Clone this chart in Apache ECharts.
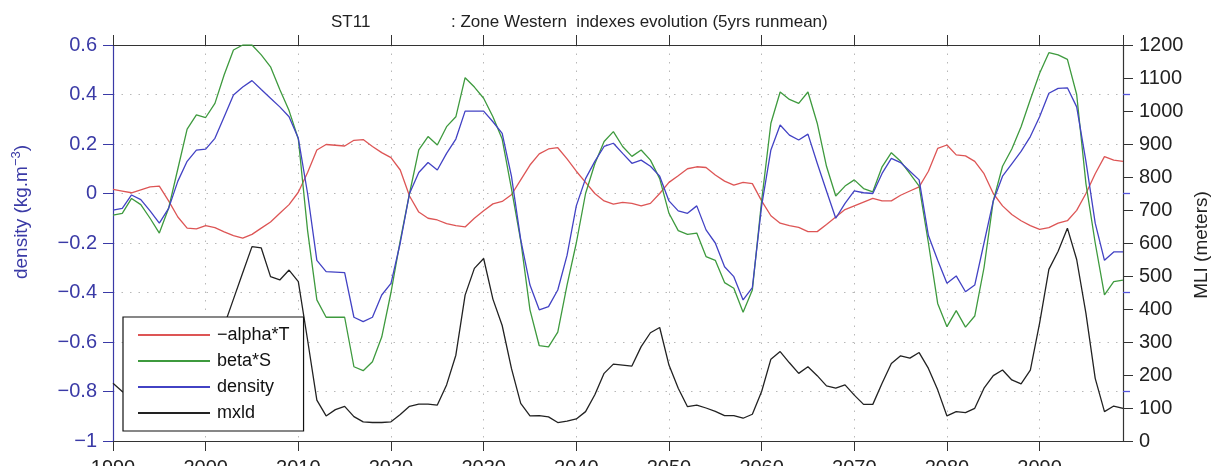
<!DOCTYPE html>
<html><head><meta charset="utf-8">
<script src="https://cdn.jsdelivr.net/npm/echarts@6/dist/echarts.min.js"></script>
<style>html,body{margin:0;padding:0;background:#fff}#c{width:1222px;height:466px}</style>
</head><body><div id="c"></div>
<script>
const startYear = 1990;
const xTicks = [1990,2000,2010,2020,2030,2040,2050,2060,2070,2080,2090];
const rightBlueTicks = [0.4, 0, -0.4, -0.8];
const alphaT = [0.017,0.01,0.003,0.015,0.027,0.03,-0.03,-0.095,-0.14,-0.143,
 -0.13,-0.138,-0.155,-0.17,-0.18,-0.165,-0.14,-0.115,-0.08,-0.045,
 0.005,0.085,0.176,0.198,0.195,0.192,0.215,0.218,0.19,0.165,
 0.145,0.095,-0.01,-0.075,-0.1,-0.107,-0.122,-0.13,-0.135,-0.1,
 -0.07,-0.042,-0.032,-0.005,0.055,0.115,0.16,0.18,0.185,0.14,
 0.09,0.045,0.0,-0.03,-0.043,-0.036,-0.04,-0.05,-0.04,0.0,
 0.045,0.072,0.1,0.108,0.105,0.075,0.05,0.034,0.045,0.04,
 -0.03,-0.09,-0.12,-0.13,-0.137,-0.154,-0.154,-0.125,-0.095,-0.065,
 -0.05,-0.035,-0.02,-0.03,-0.03,-0.007,0.01,0.027,0.09,0.182,
 0.196,0.156,0.152,0.13,0.08,0.0,-0.05,-0.085,-0.11,-0.13,
 -0.145,-0.138,-0.12,-0.11,-0.068,0.0,0.08,0.149,0.135,0.13];
const betaS = [-0.087,-0.08,-0.02,-0.045,-0.1,-0.16,-0.06,0.1,0.26,0.318,
 0.307,0.364,0.48,0.58,0.6,0.6,0.56,0.512,0.42,0.335,
 0.22,-0.15,-0.43,-0.5,-0.5,-0.5,-0.7,-0.716,-0.68,-0.58,
 -0.4,-0.19,0.0,0.176,0.23,0.196,0.27,0.31,0.468,0.43,
 0.385,0.31,0.22,0.02,-0.19,-0.47,-0.615,-0.62,-0.56,-0.37,
 -0.2,0.0,0.12,0.21,0.25,0.19,0.15,0.176,0.135,0.06,
 -0.08,-0.15,-0.165,-0.16,-0.255,-0.27,-0.36,-0.383,-0.48,-0.39,
 -0.03,0.284,0.41,0.38,0.364,0.41,0.284,0.11,-0.01,0.03,
 0.055,0.02,0.007,0.108,0.165,0.13,0.08,0.03,-0.2,-0.444,
 -0.538,-0.473,-0.54,-0.495,-0.3,-0.03,0.11,0.18,0.27,0.38,
 0.486,0.569,0.56,0.542,0.4,0.04,-0.2,-0.41,-0.356,-0.35];
const density = [-0.067,-0.06,-0.006,-0.025,-0.07,-0.12,-0.06,0.05,0.13,0.175,
 0.179,0.223,0.31,0.398,0.43,0.456,0.42,0.385,0.35,0.31,
 0.223,0.0,-0.27,-0.316,-0.318,-0.32,-0.5,-0.518,-0.5,-0.41,
 -0.363,-0.2,0.0,0.085,0.125,0.095,0.162,0.22,0.333,0.333,
 0.333,0.29,0.243,0.07,-0.186,-0.37,-0.47,-0.457,-0.39,-0.25,
 -0.05,0.06,0.13,0.19,0.203,0.162,0.122,0.135,0.11,0.07,
 -0.03,-0.07,-0.08,-0.05,-0.147,-0.2,-0.296,-0.336,-0.43,-0.38,
 -0.05,0.176,0.277,0.236,0.216,0.24,0.122,0.01,-0.1,-0.04,
 0.011,0.003,0.0,0.081,0.142,0.125,0.09,0.055,-0.17,-0.27,
 -0.363,-0.333,-0.397,-0.37,-0.2,-0.03,0.07,0.12,0.17,0.23,
 0.31,0.405,0.425,0.427,0.35,0.13,-0.12,-0.27,-0.236,-0.236];
const mxld = [175,150,130,115,105,100,100,110,130,170,
 220,290,350,430,510,589,585,498,488,518,
 483,306,124,76,95,105,74,58,56,56,
 58,80,105,112,112,109,170,260,442,523,
 553,430,350,220,114,76,77,73,56,60,
 67,89,140,205,233,230,227,286,328,344,
 230,160,104,109,100,90,77,77,69,81,
 150,248,271,237,205,225,198,167,160,170,
 139,111,111,175,235,258,251,268,220,155,
 76,89,86,99,160,198,215,185,173,215,
 357,520,575,645,550,387,190,89,106,99];

const pairs = arr => arr.map((v,i)=>[startYear+i, v]);
const BLUE = '#3a3aa6';
const FONT = 'Liberation Sans, Arial, sans-serif';
const fmtL = v => { const r = Math.round(v*10)/10; if (r===0) return '0'; const s = Number.isInteger(r) ? String(Math.abs(r)) : Math.abs(r).toFixed(1); return (r<0?'\u2212':'') + s; };
const gridDot = {show:true, lineStyle:{color:'#b8b8b8', type:[1.5,7], width:1}};

const chart = echarts.init(document.getElementById('c'), null, {renderer:'canvas'});
chart.setOption({
  animation:false,
  backgroundColor:'#fff',
  title:[
    {text:'ST11', left:326, top:9, textStyle:{fontSize:17, fontWeight:'normal', color:'#222', fontFamily:FONT}},
    {text:': Zone Western  indexes evolution (5yrs runmean)', left:446, top:9, textStyle:{fontSize:17, fontWeight:'normal', color:'#222', fontFamily:FONT}}
  ],
  grid:{left:113, right:99, top:45, bottom:25, containLabel:false, outerBoundsMode:'none'},
  legend:{
    orient:'vertical', left:123, top:317,
    backgroundColor:'#fff', borderColor:'#111', borderWidth:1.2, borderRadius:0,
    padding:[9,14,9,15], itemGap:8, itemWidth:72, itemHeight:2, icon:'rect',
    textStyle:{fontSize:18, color:'#111', fontFamily:FONT, padding:[0,0,0,2]},
    data:['\u2212alpha*T','beta*S','density','mxld']
  },
  xAxis:[
    {type:'value', position:'bottom', min:1990, max:2099, interval:10,
     axisLine:{onZero:false, lineStyle:{color:'#333', width:1.2}},
     axisTick:{show:true, inside:false, length:10, lineStyle:{color:'#333'}},
     axisLabel:{fontSize:20, color:'#222', margin:17, fontFamily:FONT, showMaxLabel:false,
       formatter: v => xTicks.includes(v) ? String(v) : ''},
     splitLine:gridDot},
    {type:'value', position:'top', min:1990, max:2099, interval:10,
     axisLine:{onZero:false, lineStyle:{color:'#333', width:1.2}},
     axisTick:{show:true, inside:false, length:10, lineStyle:{color:'#333'}},
     axisLabel:{show:false}, splitLine:{show:false}}
  ],
  yAxis:[
    {type:'value', position:'left', min:-1, max:0.6, interval:0.2,
     axisLine:{show:true, onZero:false, lineStyle:{color:BLUE, width:1.2}},
     axisTick:{show:true, inside:false, length:10, lineStyle:{color:BLUE}},
     axisLabel:{fontSize:20, color:BLUE, margin:16, fontFamily:FONT, formatter:fmtL},
     splitLine:gridDot},
    {type:'value', position:'right', min:0, max:1200, interval:100,
     axisLine:{show:true, onZero:false, lineStyle:{color:'#333', width:1.2}},
     axisTick:{show:true, inside:false, length:10, lineStyle:{color:'#333'}},
     axisLabel:{fontSize:20, color:'#222', margin:16, fontFamily:FONT, formatter: v => String(v)},
     splitLine:{show:false}},
    {type:'value', position:'right', min:-1, max:0.6,
     axisLine:{show:false, onZero:false},
     axisTick:{show:true, inside:false, length:7, customValues:rightBlueTicks, lineStyle:{color:'#5555dd', width:1.3}},
     axisLabel:{show:false}, splitLine:{show:false}}
  ],
  graphic:[
    {type:'text', x:22, y:212, rotation:Math.PI/2, z:10,
     style:{text:'density (kg.m{sup|\u22123})', fill:BLUE, font:'19px '+FONT, align:'center', verticalAlign:'middle',
       rich:{sup:{fontSize:13, fill:BLUE, padding:[0,0,12,0], fontFamily:FONT}}}},
    {type:'text', x:1202, y:245, rotation:Math.PI/2, z:10,
     style:{text:'MLI (meters)', fill:'#222', font:'19px '+FONT, align:'center', verticalAlign:'middle'}}
  ],
  series:[
    {name:'\u2212alpha*T', type:'line', xAxisIndex:0, yAxisIndex:0, data:pairs(alphaT), symbol:'none', lineStyle:{color:'#dd5555', width:1.3}, itemStyle:{color:'#dd5555'}},
    {name:'beta*S', type:'line', xAxisIndex:0, yAxisIndex:0, data:pairs(betaS), symbol:'none', lineStyle:{color:'#3e9a3e', width:1.3}, itemStyle:{color:'#3e9a3e'}},
    {name:'density', type:'line', xAxisIndex:0, yAxisIndex:0, data:pairs(density), symbol:'none', lineStyle:{color:'#4242c4', width:1.3}, itemStyle:{color:'#4242c4'}},
    {name:'mxld', type:'line', xAxisIndex:0, yAxisIndex:1, data:pairs(mxld), symbol:'none', lineStyle:{color:'#222', width:1.3}, itemStyle:{color:'#222'}}
  ]
});
</script></body></html>
